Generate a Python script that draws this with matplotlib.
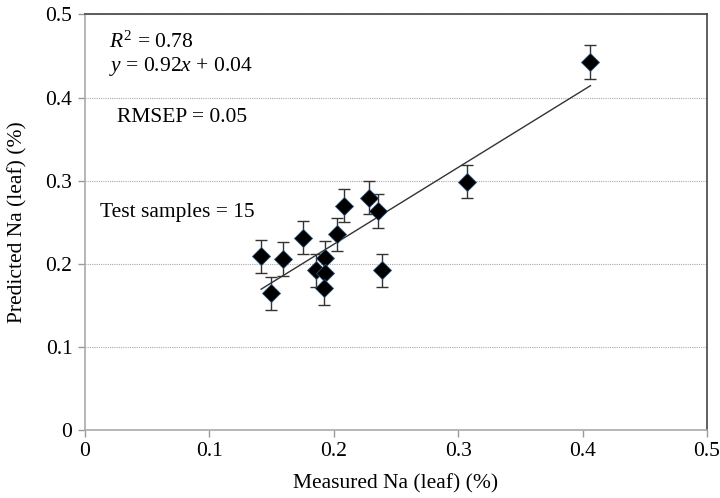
import matplotlib
matplotlib.use("Agg")
import matplotlib.pyplot as plt
import numpy as np

# Measured vs predicted leaf Na (%) for the test samples
measured = [0.1416, 0.1496, 0.1592, 0.1749, 0.186, 0.193, 0.193, 0.1918,
            0.2024, 0.2086, 0.2281, 0.2358, 0.2385, 0.307, 0.4063]
predicted = [0.2088, 0.1643, 0.2059, 0.2316, 0.192, 0.207, 0.189, 0.171,
             0.2356, 0.270, 0.2797, 0.2636, 0.192, 0.299, 0.4427]
pred_err = [0.02] * 15
slope, intercept = 0.925, 0.0385
ticks = [0, 0.1, 0.2, 0.3, 0.4, 0.5]
tick_labels = ["0", "0.1", "0.2", "0.3", "0.4", "0.5"]

plt.rcParams['font.family'] = ['Liberation Serif', 'DejaVu Serif']
plt.rcParams['mathtext.fontset'] = 'custom'
plt.rcParams['mathtext.rm'] = 'Liberation Serif'
plt.rcParams['mathtext.it'] = 'Liberation Serif:italic'

fig = plt.figure(figsize=(7.2, 4.98), dpi=100)
ax = fig.add_axes([85 / 720, 1 - 430 / 498, (707 - 85) / 720, (430 - 14.5) / 498])

ax.errorbar(measured, predicted, yerr=pred_err, fmt='none', ecolor='#333333',
            elinewidth=1.0, capsize=4, capthick=1.0, zorder=2)
ax.plot(measured, predicted, linestyle='none', marker='D', markersize=9,
        markerfacecolor='black', markeredgecolor='#2a4f7a', markeredgewidth=0.6, zorder=3)

xl = np.array([min(measured), max(measured)])
ax.plot(xl, slope * xl + intercept, color='#333333', linewidth=1.0, zorder=2)

ax.set_xlim(0, 0.5)
ax.set_ylim(0, 0.5)
ax.set_xticks(ticks)
ax.set_xticklabels(tick_labels)
ax.set_yticks(ticks)
ax.set_yticklabels(tick_labels)
ax.yaxis.grid(True, color='#aaaaaa', linestyle=(0, (1, 1)), linewidth=0.8)
ax.set_axisbelow(True)

ax.tick_params(labelsize=15.5, length=5, color='#999999', width=1, pad=4)
ax.spines['left'].set_color('#aaaaaa')
ax.spines['bottom'].set_color('#aaaaaa')
ax.spines['top'].set_color('#444444')
ax.spines['right'].set_color('#444444')
for s in ax.spines.values():
    s.set_linewidth(1.2)

ax.set_xlabel('Measured Na (leaf) (%)', fontsize=15.5, labelpad=9)
ax.set_ylabel('Predicted Na (leaf) (%)', fontsize=15.5, labelpad=13)

ax.text(0.019, 0.467, r'$R^2$ = 0.78', fontsize=15.5, va='center')
ax.text(0.019, 0.437, r'$y$ = 0.92$x$ + 0.04', fontsize=15.5, va='center')
ax.text(0.026, 0.376, 'RMSEP = 0.05', fontsize=15.5, va='center')
ax.text(0.012, 0.262, 'Test samples = 15', fontsize=15.5, va='center')

fig.savefig('out.png', dpi=100)
